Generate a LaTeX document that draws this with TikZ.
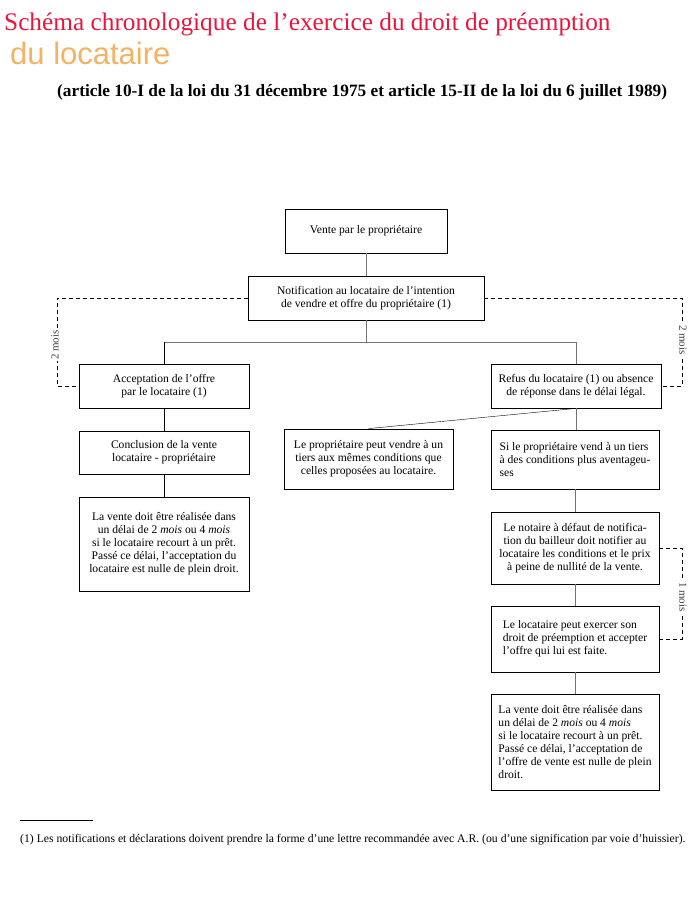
\documentclass[tikz,border=0pt]{standalone}
\usepackage{fontspec}
\setmainfont{Liberation Serif}
\newfontfamily\arialfont{Liberation Sans}
\usepackage{tikz}
\usetikzlibrary{positioning,calc}

\definecolor{titrerouge}{RGB}{232,22,60}
\definecolor{titreorange}{RGB}{245,178,98}

\tikzset{
  boite/.style={draw, line width=0.8pt, inner sep=0pt, align=center,
    font=\fontsize{11.6}{13}\selectfont},
  lien/.style={black!55, line width=0.8pt},
  delai/.style={line width=0.8pt, dash pattern=on 4pt off 3pt},
  duree/.style={fill=white, inner sep=1pt, text=black!75, font=\fontsize{11}{12}\selectfont}
}

\begin{document}
\begin{tikzpicture}[x=1pt,y=-1pt]
  \useasboundingbox (0,0) rectangle (700,900);

  % titre
  \node[anchor=base west, inner sep=0pt, text=titrerouge, font=\fontsize{25.3}{25}\selectfont] (titre) at (4,30)
    {Schéma chronologique de l’exercice du droit de préemption};
  \node[anchor=base west, inner sep=0pt, text=titreorange, font=\arialfont\fontsize{31}{31}\selectfont] (locataire) at (10,64)
    {du locataire};
  \node[anchor=base west, inner sep=0pt, font=\bfseries\fontsize{17.3}{17}\selectfont] (articles) at (57,96)
    {(article 10-I de la loi du 31 décembre 1975 et article 15-II de la loi du 6 juillet 1989)};

  % tronc commun
  \node[boite, minimum width=162pt, minimum height=44pt] (vente) at (366,231) {Vente par le propriétaire};
  \node[boite, minimum width=236pt, minimum height=44pt] (notif) at (366,298)
    {Notification au locataire de l’intention\\de vendre et offre du propriétaire (1)};

  % branche gauche : acceptation
  \node[boite, minimum width=170pt, minimum height=44pt] (accept) at (164,386)
    {Acceptation de l’offre\\par le locataire (1)};
  \node[boite, minimum width=170pt, minimum height=43pt] (conclu) at (164,452.5)
    {Conclusion de la vente\\locataire - propriétaire};
  \node[boite, minimum width=170pt, minimum height=94pt] (venteG) at (164,544)
    {La vente doit être réalisée dans\\un délai de 2 \textit{mois} ou 4 \textit{mois}\\si le locataire recourt à un prêt.\\Passé ce délai, l’acceptation du\\locataire est nulle de plein droit.};

  % branche droite : refus
  \node[boite, minimum width=170pt, minimum height=44pt] (refus) at (576,386)
    {Refus du locataire (1) ou absence\\de réponse dans le délai légal.};
  \node[boite, minimum width=169pt, minimum height=60pt] (tiers) at (368.5,459)
    {Le propriétaire peut vendre à un\\tiers aux mêmes conditions que\\celles proposées au locataire.};
  \node[boite, align=left, minimum width=168pt, minimum height=59pt] (plusav) at (575,459.5)
    {Si le propriétaire vend à un tiers\\à des conditions plus aventageu-\\ses};
  \node[boite, minimum width=168pt, minimum height=72pt] (notaire) at (575,548)
    {Le notaire à défaut de notifica-\\tion du bailleur doit notifier au\\locataire les conditions et le prix\\à peine de nullité de la vente.};
  \node[boite, align=left, minimum width=168pt, minimum height=66pt] (exerce) at (575,639)
    {Le locataire peut exercer son\\droit de préemption et accepter\\l’offre qui lui est faite.};
  \node[boite, align=left, minimum width=168pt, minimum height=96pt] (venteD) at (575,742)
    {La vente doit être réalisée dans\\un délai de 2 \textit{mois} ou 4 \textit{mois}\\si le locataire recourt à un prêt.\\Passé ce délai, l’acceptation de\\l’offre de vente est nulle de plein\\droit.};

  % liaisons
  \coordinate (fourche) at (366,342);
  \draw[lien] (vente) -- (notif);
  \draw[lien] (notif) -- (fourche);
  \draw[lien] (accept.north |- fourche) -- (refus.north |- fourche);
  \draw (accept.north |- fourche) -- (accept);
  \draw[lien] (refus.north |- fourche) -- (refus);
  \draw (accept) -- (conclu);
  \draw (conclu) -- (venteG);
  \draw (refus.south) -- (tiers.north);
  \draw[lien] (refus) -- (refus |- plusav.north);
  \draw[lien] (plusav) -- (notaire);
  \draw[lien] (notaire) -- (exerce);
  \draw[lien] (exerce) -- (venteD);

  % delais
  \coordinate (bordG) at (57,0);
  \coordinate (bordD) at (682,0);
  \draw[delai] (notif.west) -- (notif.west -| bordG) |- (accept.west);
  \draw[delai] (notif.east) -- (notif.east -| bordD) |- (refus.east);
  \draw[delai] (notaire.east) -- (notaire.east -| bordD) |- (exerce.east);
  \node[duree, rotate=90] (deuxG) at (55,345) {2 mois};
  \node[duree, rotate=-90] (deuxD) at (683,340) {2 mois};
  \node[duree, rotate=-90] (unmois) at (683,597) {1 mois};

  % note
  \draw (20,820) -- (93,820);
  \node[anchor=base west, inner sep=0pt, font=\fontsize{11.7}{13}\selectfont] (note) at (20,842)
    {(1) Les notifications et déclarations doivent prendre la forme d’une lettre recommandée avec A.R. (ou d’une signification par voie d’huissier).};
\end{tikzpicture}
\end{document}
